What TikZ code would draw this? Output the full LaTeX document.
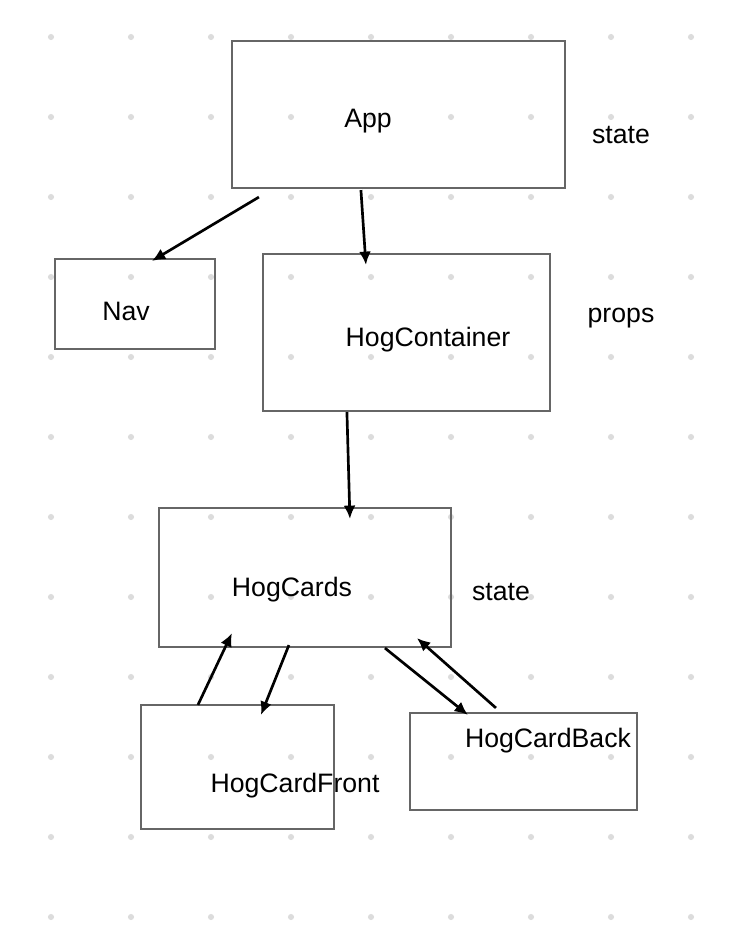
\documentclass[tikz,border=0pt]{standalone}
\usepackage{fontspec}
\setmainfont{Liberation Sans}
\usetikzlibrary{arrows.meta,positioning,fit,calc}
\definecolor{boxgray}{RGB}{102,102,102}
\definecolor{dotgray}{RGB}{220,220,220}

\begin{document}
\begin{tikzpicture}[
    x=0.75pt, y=-0.75pt,
    font=\fontsize{20}{24}\selectfont,
    comp/.style={
      draw=boxgray, line width=1.6pt, inner sep=0pt
    },
    lbl/.style={anchor=base, inner sep=0pt},
    flow/.style={-{Latex[length=10pt,width=9pt]}, line width=2pt}
  ]
    \useasboundingbox (0,0) rectangle (744,926);

    % Dot grid of the canvas
    \foreach \gx in {51,131,...,691}
      \foreach \gy in {37,117,...,917}
        \fill[dotgray] (\gx,\gy) circle[radius=2.3pt];

    % Components
    \node[comp, fit={(232,41) (565,188)}] (app) {};
    \node[comp, fit={(55,259) (215,349)}] (nav) {};
    \node[comp, fit={(263,254) (550,411)}] (hogcontainer) {};
    \node[comp, fit={(159,508) (451,647)}] (hogcards) {};
    \node[comp, fit={(141,705) (334,829)}] (hogcardfront) {};
    \node[comp, fit={(410,713) (637,810)}] (hogcardback) {};

    % Names inside the boxes
    \node[lbl] at (368,127) (applbl) {App};
    \node[lbl] at (126,320) (navlbl) {Nav};
    \node[lbl] at (428,346) (hogcontainerlbl) {HogContainer};
    \node[lbl] at (292,596) (hogcardslbl) {HogCards};
    \node[lbl] at (295,792) (hogcardfrontlbl) {HogCardFront};
    \node[lbl] at (548,747) (hogcardbacklbl) {HogCardBack};

    % Side notes
    \node[lbl] at (621,143) (appstate) {state};
    \node[lbl] at (621,322) (containerprops) {props};
    \node[lbl] at (501,600) (cardsstate) {state};

    % Data flow
    \draw[flow] ([shift={(28,8)}]app.south west) --
      ([shift={(98,3)}]nav.north west);
    \draw[flow] ([shift={(130,1)}]app.south west) --
      ([shift={(104,12)}]hogcontainer.north west);
    \draw[flow] ([shift={(85,0)}]hogcontainer.south west) --
      ([shift={(192,12)}]hogcards.north west);
    \draw[flow] ([shift={(58,1)}]hogcardfront.north west) --
      ([shift={(74,-15)}]hogcards.south west);
    \draw[flow] ([shift={(131,-3)}]hogcards.south west) --
      ([shift={(121,11)}]hogcardfront.north west);
    \draw[flow] ([shift={(227,0)}]hogcards.south west) --
      ([shift={(59,3)}]hogcardback.north west);
    \draw[flow] ([shift={(87,-4)}]hogcardback.north west) --
      ([shift={(259,-10)}]hogcards.south west);
  \end{tikzpicture}
\end{document}
